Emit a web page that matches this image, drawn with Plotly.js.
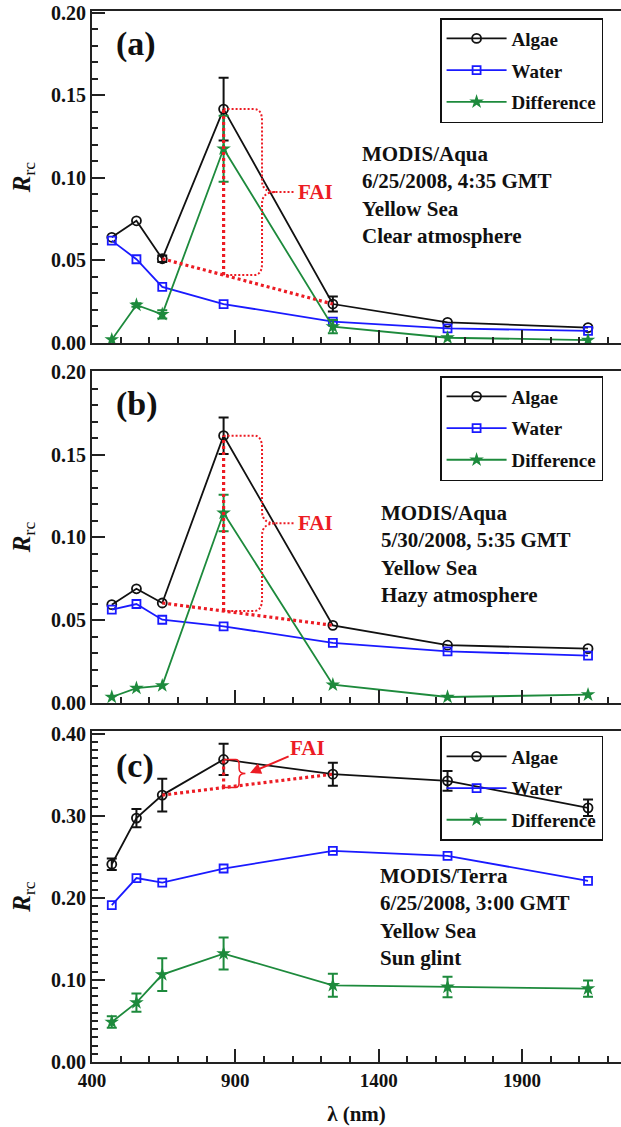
<!DOCTYPE html>
<html>
<head>
<meta charset="utf-8">
<script src="https://cdn.plot.ly/plotly-3.0.1.min.js"></script>
<style>html,body{margin:0;padding:0;background:#fff}#chart{width:621px;height:1127px}</style>
</head>
<body>
<div id="chart"></div>
<script>
// MODIS band centre wavelengths (nm)
const bands = [469, 555, 645, 859, 1240, 1640, 2130];

// Panel (a) MODIS/Aqua 6/25/2008 clear atmosphere
const algaeA    = [0.064, 0.074, 0.051, 0.1416, 0.0236, 0.0125, 0.0093];
const algaeAErr = [NaN, NaN, 0.002, 0.019, 0.0045, NaN, NaN];
const waterA    = [0.062, 0.0507, 0.034, 0.0236, 0.0129, 0.0089, 0.0073];
const diffA     = [0.002, 0.023, 0.0174, 0.1176, 0.0099, 0.0032, 0.0018];
const diffAErr  = [NaN, 0.001, 0.0025, 0.02, 0.004, NaN, NaN];

// Panel (b) MODIS/Aqua 5/30/2008 hazy atmosphere
const algaeB    = [0.0594, 0.069, 0.0604, 0.1615, 0.0469, 0.0349, 0.0328];
const algaeBErr = [NaN, NaN, NaN, 0.011, NaN, NaN, NaN];
const waterB    = [0.0564, 0.0598, 0.0503, 0.0463, 0.0363, 0.0312, 0.0286];
const diffB     = [0.0036, 0.009, 0.0105, 0.1148, 0.011, 0.0036, 0.005];
const diffBErr  = [NaN, NaN, NaN, 0.011, NaN, NaN, NaN];

// Panel (c) MODIS/Terra 6/25/2008 sun glint
const algaeC    = [0.2408, 0.297, 0.325, 0.3684, 0.3505, 0.3424, 0.3095];
const algaeCErr = [0.007, 0.011, 0.02, 0.019, 0.014, 0.012, 0.010];
const waterC    = [0.191, 0.224, 0.2185, 0.2356, 0.257, 0.251, 0.2205];
const diffC     = [0.0487, 0.0723, 0.1064, 0.132, 0.0934, 0.0914, 0.0893];
const diffCErr  = [0.007, 0.011, 0.02, 0.0195, 0.014, 0.0125, 0.0098];

const seriesNames = ['Algae', 'Water', 'Difference'];
const panelLabels = ['(a)', '(b)', '(c)'];
const panelTexts = [
  'MODIS/Aqua<br>6/25/2008, 4:35 GMT<br>Yellow Sea<br>Clear atmosphere',
  'MODIS/Aqua<br>5/30/2008, 5:35 GMT<br>Yellow Sea<br>Hazy atmosphere',
  'MODIS/Terra<br>6/25/2008, 3:00 GMT<br>Yellow Sea<br>Sun glint'
];

const FONT = 'Liberation Serif';
const BLACK = '#111111', BLUE = '#1a1aff', GREEN = '#1d8a3c', RED = '#ec1c24', AXC = '#222222';

const panels = [
  {algae: algaeA, aErr: algaeAErr, water: waterA, diff: diffA, dErr: diffAErr, sfx: ''},
  {algae: algaeB, aErr: algaeBErr, water: waterB, diff: diffB, dErr: diffBErr, sfx: '2'},
  {algae: algaeC, aErr: algaeCErr, water: waterC, diff: diffC, dErr: diffCErr, sfx: '3'}
];

const traces = [];
panels.forEach((p) => {
  const xa = 'x' + p.sfx, ya = 'y' + p.sfx, lg = 'legend' + p.sfx;
  const eb = (arr, col) => ({type: 'data', array: arr, visible: true, color: col, thickness: 2, width: 5});
  traces.push({
    x: bands, y: p.algae, name: seriesNames[0], type: 'scatter', mode: 'lines+markers',
    xaxis: xa, yaxis: ya, legend: lg, legendgroup: 'g1' + p.sfx,
    line: {color: BLACK, width: 1.8},
    marker: {symbol: 'circle-open', size: 9, color: BLACK, line: {width: 1.8}},
    error_y: eb(p.aErr, BLACK)
  });
  traces.push({
    x: bands, y: p.water, name: seriesNames[1], type: 'scatter', mode: 'lines+markers',
    xaxis: xa, yaxis: ya, legend: lg, legendgroup: 'g2' + p.sfx,
    line: {color: BLUE, width: 1.8},
    marker: {symbol: 'square-open', size: 8, color: BLUE, line: {width: 1.8}}
  });
  traces.push({
    x: bands, y: p.diff, name: seriesNames[2], type: 'scatter', mode: 'lines+markers',
    xaxis: xa, yaxis: ya, legend: lg, legendgroup: 'g3' + p.sfx,
    line: {color: GREEN, width: 1.8},
    marker: {symbol: 'star', size: 11, color: GREEN, line: {width: 0}},
    error_y: eb(p.dErr, GREEN)
  });
});

// FAI construction (baseline between 645 and 1240 nm, evaluated at 859 nm)
const shapes = [];
const annotations = [];
const braceCfg = [
  {xv: 993, cx: 28, xtip: 1040, xdash: 1108, ryf: 0.07, dash: 'dot', w: 2},
  {xv: 993, cx: 28, xtip: 1040, xdash: 1108, ryf: 0.07, dash: 'dot', w: 2},
  {xv: 913, cx: 12, xtip: 935, xdash: null, ryf: 0.18, dash: 'solid', w: 1.5}
];
panels.forEach((p, i) => {
  const xa = 'x' + p.sfx, ya = 'y' + p.sfx;
  const a645 = p.algae[2], a859 = p.algae[3], a1240 = p.algae[4];
  const base = a645 + (a1240 - a645) * (bands[3] - bands[2]) / (bands[4] - bands[2]);
  shapes.push({type: 'line', xref: xa, yref: ya, x0: bands[2], y0: a645, x1: bands[4], y1: a1240,
    line: {color: RED, width: 3.2, dash: '3px,3px'}});
  shapes.push({type: 'line', xref: xa, yref: ya, x0: bands[3], y0: base, x1: bands[3], y1: a859,
    line: {color: RED, width: 3.2, dash: '3px,3px'}});
  const c = braceCfg[i];
  const top = a859, bot = base, mid = (top + bot) / 2, ry = (top - bot) * c.ryf;
  let path = `M${bands[3]},${top} L${c.xv - c.cx},${top} Q${c.xv},${top} ${c.xv},${top - ry} ` +
    `L${c.xv},${mid + ry} Q${c.xv},${mid} ${c.xtip},${mid} Q${c.xv},${mid} ${c.xv},${mid - ry} ` +
    `L${c.xv},${bot + ry} Q${c.xv},${bot} ${c.xv - c.cx},${bot} L${bands[3]},${bot}`;
  if (c.xdash) path += ` M${c.xtip},${mid} L${c.xdash},${mid}`;
  shapes.push({type: 'path', xref: xa, yref: ya, path: path,
    line: {color: RED, width: c.w, dash: c.dash === 'dot' ? '2px,2px' : 'solid'}});
  if (i < 2) {
    annotations.push({xref: xa, yref: ya, x: c.xdash + 2, y: mid, xanchor: 'left', yanchor: 'middle',
      text: 'FAI', showarrow: false, font: {family: FONT, size: 21, color: RED, weight: 'bold'}});
  } else {
    annotations.push({xref: xa, yref: ya, x: 951, y: 0.352, axref: xa, ayref: ya, ax: 1152, ay: 0.382,
      text: 'FAI', showarrow: true, arrowhead: 2, arrowsize: 1.1, arrowwidth: 2, arrowcolor: RED,
      font: {family: FONT, size: 21, color: RED, weight: 'bold'}});
  }
});

// panel labels and captions
const labelY = [0.181, 0.1806, 0.361];
const textPos = [{x: 1335, y: 0.123}, {x: 1401, y: 0.1234}, {x: 1397, y: 0.243}];
panels.forEach((p, i) => {
  const xa = 'x' + p.sfx, ya = 'y' + p.sfx;
  annotations.push({xref: xa, yref: ya, x: 476, y: labelY[i], xanchor: 'left', yanchor: 'middle',
    text: panelLabels[i], showarrow: false, font: {family: FONT, size: 34, color: BLACK, weight: 'bold'}});
  annotations.push({xref: xa, yref: ya, x: textPos[i].x, y: textPos[i].y, xanchor: 'left', yanchor: 'top',
    align: 'left', text: panelTexts[i], showarrow: false,
    font: {family: FONT, size: 21, color: BLACK, weight: 'bold'}});
});

const tickFont = {family: FONT, size: 19, color: BLACK, weight: 'bold'};
function xAxis(anchor, showLabels) {
  return {
    anchor: anchor, range: [400, 2245], tick0: 400, dtick: 500, ticks: 'inside', ticklen: 13,
    tickwidth: 2, tickcolor: AXC, showline: true, linecolor: AXC, linewidth: 2, mirror: true,
    showgrid: false, zeroline: false, showticklabels: showLabels, tickfont: tickFont,
    minor: {dtick: 100, tick0: 400, ticks: 'inside', ticklen: 6, tickwidth: 2, tickcolor: AXC, showgrid: false}
  };
}
function yAxis(anchor, domain, range, dtick) {
  return {
    anchor: anchor, domain: domain, range: range, dtick: dtick, tick0: 0, tickformat: '.2f',
    ticks: 'inside', ticklen: 13, tickwidth: 2, tickcolor: AXC, showline: true, linecolor: AXC,
    linewidth: 2, showgrid: false, zeroline: false,
    tickfont: {family: FONT, size: 20, color: BLACK, weight: 'bold'},
    minor: {dtick: 0.01, ticks: 'inside', ticklen: 6, tickwidth: 2, tickcolor: AXC, showgrid: false},
    title: {text: '<b><i>R</i></b><sub>rc</sub>', font: {family: FONT, size: 25, color: BLACK}, standoff: 13},
    automargin: true
  };
}
function legendCfg(ytop) {
  return {
    x: 0.658, y: ytop, xanchor: 'left', yanchor: 'top', xref: 'paper', yref: 'paper',
    bgcolor: 'rgba(0,0,0,0)', bordercolor: BLACK, borderwidth: 1.5,
    font: {family: FONT, size: 19, color: BLACK, weight: 'bold'},
    traceorder: 'grouped', tracegroupgap: 4, itemwidth: 60,
    entrywidth: 172, entrywidthmode: 'pixels'
  };
}

const layout = {
  width: 621, height: 1127,
  margin: {l: 92, r: 0, t: 11, b: 65},
  paper_bgcolor: '#ffffff', plot_bgcolor: '#ffffff',
  font: {family: FONT},
  showlegend: true,
  xaxis: xAxis('y', false),
  xaxis2: xAxis('y2', false),
  xaxis3: Object.assign(xAxis('y3', true), {
    title: {text: '<b>λ (nm)</b>', font: {family: FONT, size: 21, color: BLACK}, standoff: 17}
  }),
  yaxis: yAxis('x', [0.6841, 1], [0, 0.201], 0.05),
  yaxis2: yAxis('x2', [0.3416, 0.6575], [0, 0.2006], 0.05),
  yaxis3: yAxis('x3', [0, 0.3149], [0, 0.403], 0.1),
  legend: legendCfg(0.9933),
  legend2: legendCfg(0.6527),
  legend3: legendCfg(0.3102),
  shapes: shapes,
  annotations: annotations
};

Plotly.newPlot('chart', traces, layout, {displayModeBar: false, staticPlot: true});
</script>
</body>
</html>
